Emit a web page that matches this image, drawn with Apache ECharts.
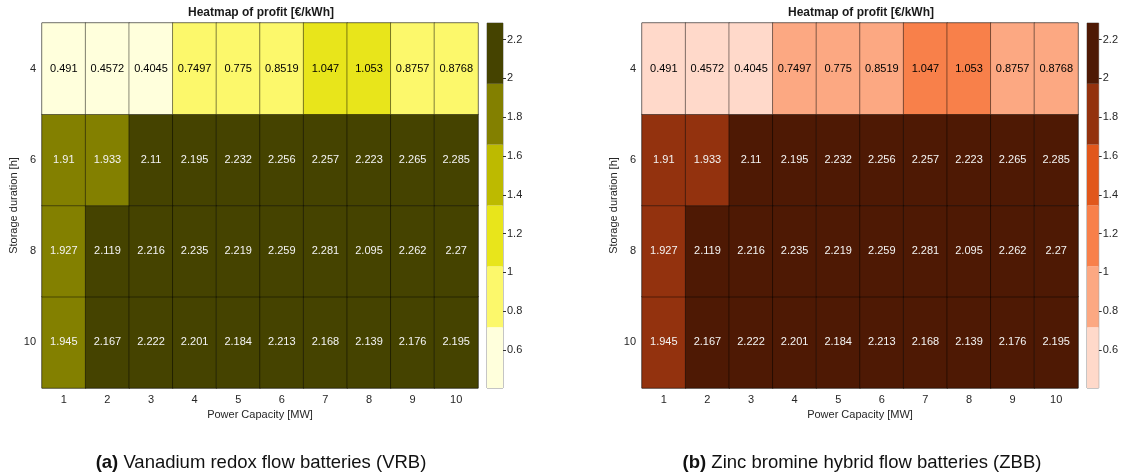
<!DOCTYPE html>
<html>
<head>
<meta charset="utf-8">
<script src="https://cdn.jsdelivr.net/npm/echarts@6/dist/echarts.min.js"></script>
<style>html,body{margin:0;padding:0;background:#fff}#c{width:1121px;height:475px}</style>
</head>
<body>
<div id="c"></div>
<script>
// ---- data ----
var powerCats = ['1','2','3','4','5','6','7','8','9','10'];
var durationCats = ['10','8','6','4']; // bottom to top
var rowDur4  = [0.491, 0.4572, 0.4045, 0.7497, 0.775, 0.8519, 1.047, 1.053, 0.8757, 0.8768];
var rowDur6  = [1.91, 1.933, 2.11, 2.195, 2.232, 2.256, 2.257, 2.223, 2.265, 2.285];
var rowDur8  = [1.927, 2.119, 2.216, 2.235, 2.219, 2.259, 2.281, 2.095, 2.262, 2.27];
var rowDur10 = [1.945, 2.167, 2.222, 2.201, 2.184, 2.213, 2.168, 2.139, 2.176, 2.195];
var bandBounds = [0.4045, 0.7179, 1.0313, 1.3448, 1.6582, 1.9716, 2.285];
var cbTicks = [0.6, 0.8, 1, 1.2, 1.4, 1.6, 1.8, 2, 2.2];
var vrbColors = ['#FFFFDC', '#FCF86B', '#E8E51B', '#BDBA00', '#838000', '#454300'];
var zbbColors = ['#FFD9CA', '#FCA882', '#F8804A', '#E1571B', '#93320E', '#4E1904'];

// ---- build ----
var FONT = '"Liberation Sans", Arial, Helvetica, sans-serif';
var rowsByCat = {'10': rowDur10, '8': rowDur8, '6': rowDur6, '4': rowDur4};
function bandOf(v){
  for (var i = 0; i < 6; i++) if (v <= bandBounds[i+1] + 1e-9) return i;
  return 5;
}
function heatData(){
  var d = [];
  durationCats.forEach(function(cat, yi){
    rowsByCat[cat].forEach(function(v, xi){
      d.push({value: [xi, yi, v], label: {color: bandOf(v) >= 3 ? '#f4f4f4' : '#000000'}});
    });
  });
  return d;
}
function pieces(colors){
  return colors.map(function(c, i){ return {min: bandBounds[i], max: bandBounds[i+1], color: c}; });
}

var offsets = [0, 600];
var palettes = [vrbColors, zbbColors];
var grids = [], xAxes = [], yAxes = [], series = [], visualMaps = [], titles = [];

offsets.forEach(function(off, k){
  var gH = grids.length;
  grids.push({left: 42 + off, top: 23, width: 436, height: 365, show: true, borderColor: '#8c8c8c', borderWidth: 1, backgroundColor: 'transparent', containLabel: false});
  xAxes.push({type: 'category', gridIndex: gH, data: powerCats,
    name: 'Power Capacity [MW]', nameLocation: 'middle', nameGap: 16,
    nameTextStyle: {fontFamily: FONT, fontSize: 11, color: '#262626'},
    axisLine: {show: false}, axisTick: {show: false}, splitLine: {show: false},
    axisLabel: {fontFamily: FONT, fontSize: 11, color: '#262626', margin: 6}});
  yAxes.push({type: 'category', gridIndex: gH, data: durationCats,
    name: 'Storage duration [h]', nameLocation: 'middle', nameGap: 18,
    nameTextStyle: {fontFamily: FONT, fontSize: 11, color: '#262626'},
    axisLine: {show: false}, axisTick: {show: false}, splitLine: {show: false},
    axisLabel: {fontFamily: FONT, fontSize: 11, color: '#262626', margin: 6}});
  var sH = series.length;
  series.push({type: 'heatmap', xAxisIndex: gH, yAxisIndex: gH, data: heatData(),
    itemStyle: {borderColor: 'rgba(0,0,0,0.45)', borderWidth: 1},
    label: {show: true, fontFamily: FONT, fontSize: 11, formatter: function(p){ return String(p.value[2]); }},
    emphasis: {disabled: true}});
  visualMaps.push({type: 'piecewise', show: false, seriesIndex: sH, dimension: 2, pieces: pieces(palettes[k])});

  // colorbar
  var gC = grids.length;
  grids.push({left: 487 + off, top: 23, width: 16, height: 365, show: true, borderColor: '#8c8c8c', borderWidth: 1, backgroundColor: 'transparent'});
  xAxes.push({type: 'category', gridIndex: gC, data: [''], show: false});
  yAxes.push({type: 'value', gridIndex: gC, position: 'right', min: bandBounds[0], max: bandBounds[6],
    axisLine: {show: false}, splitLine: {show: false},
    axisTick: {show: true, inside: false, length: 3, lineStyle: {color: '#333'}, customValues: cbTicks},
    axisLabel: {show: true, fontFamily: FONT, fontSize: 11, color: '#262626', margin: 4, customValues: cbTicks,
      formatter: function(v){ return String(Math.round(v*10)/10); }}});
  palettes[k].forEach(function(c, i){
    series.push({type: 'bar', xAxisIndex: gC, yAxisIndex: gC, stack: 'cb' + k, barWidth: '100%',
      data: [i === 0 ? bandBounds[1] : bandBounds[i+1] - bandBounds[i]],
      itemStyle: {color: c}, silent: true, animation: false});
  });

  titles.push({text: 'Heatmap of profit [€/kWh]', left: 256 + off, top: 2, textAlign: 'center',
    textStyle: {fontFamily: FONT, fontSize: 12, fontWeight: 'bold', color: '#1a1a1a'}});
});

var capStyle = {fontFamily: FONT, fontSize: 18.5, fontWeight: 'normal', color: '#111',
  rich: {b: {fontFamily: FONT, fontSize: 18.5, fontWeight: 'bold', color: '#111'}}};
titles.push({text: '{b|(a)} Vanadium redox flow batteries (VRB)', left: 256, top: 448, textAlign: 'center', textStyle: capStyle});
titles.push({text: '{b|(b)} Zinc bromine hybrid flow batteries (ZBB)', left: 857, top: 448, textAlign: 'center', textStyle: capStyle});

var chart = echarts.init(document.getElementById('c'), null, {renderer: 'canvas'});
chart.setOption({
  animation: false,
  backgroundColor: '#ffffff',
  title: titles,
  grid: grids,
  xAxis: xAxes,
  yAxis: yAxes,
  visualMap: visualMaps,
  series: series
});
</script>
</body>
</html>
